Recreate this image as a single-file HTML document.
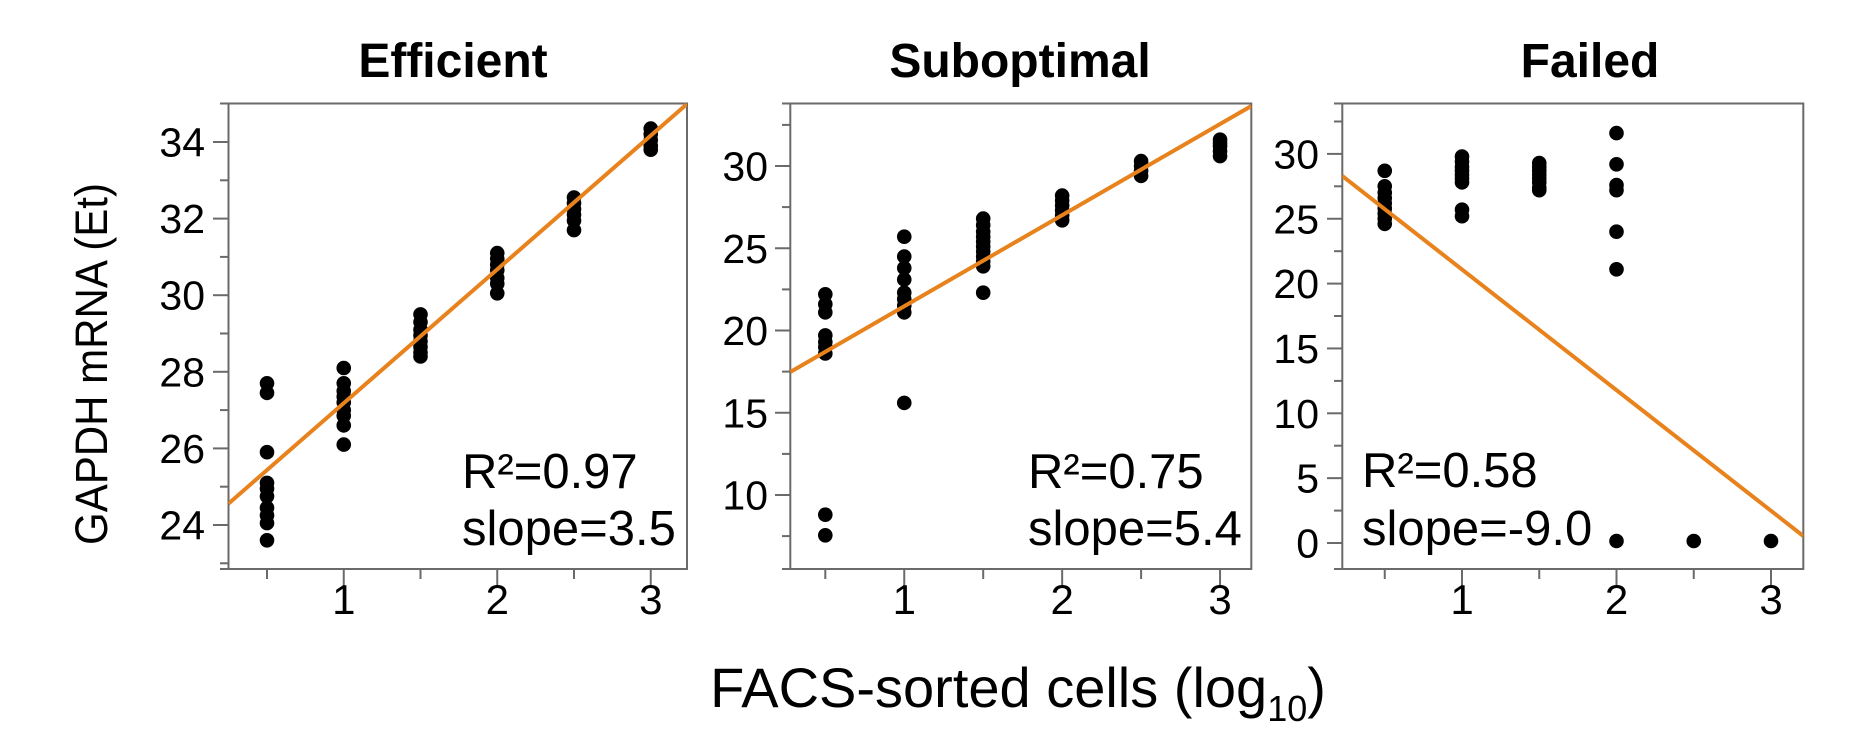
<!DOCTYPE html>
<html>
<head>
<meta charset="utf-8">
<style>
  html, body { margin: 0; padding: 0; background: #ffffff; }
  svg { display: block; }
  text { font-family: "Liberation Sans", Arial, sans-serif; fill: #000; }
</style>
</head>
<body>
<svg width="1860" height="734" viewBox="0 0 1860 734" xmlns="http://www.w3.org/2000/svg">
  <defs>
    <clipPath id="c1"><rect x="228.5" y="103.5" width="458.5" height="465.5"/></clipPath>
    <clipPath id="c2"><rect x="790.3" y="103.5" width="461" height="465.5"/></clipPath>
    <clipPath id="c3"><rect x="1342.3" y="103.5" width="461" height="465.5"/></clipPath>
  </defs>

  <!-- Titles -->
  <text x="453" y="77" font-size="48" font-weight="bold" text-anchor="middle">Efficient</text>
  <text x="1020" y="77" font-size="48" font-weight="bold" text-anchor="middle">Suboptimal</text>
  <text x="1590" y="77" font-size="48" font-weight="bold" text-anchor="middle">Failed</text>

  <!-- Axis labels -->
  <text transform="translate(107,364) rotate(-90)" font-size="45" text-anchor="middle" textLength="362" lengthAdjust="spacingAndGlyphs">GAPDH mRNA (Et)</text>
  <text x="1018" y="707" font-size="56" text-anchor="middle">FACS-sorted cells (log<tspan font-size="36" dy="14">10</tspan><tspan dy="-14">)</tspan></text>

  <!-- ============ PANEL 1 ============ -->
  <g stroke="#6a6a6a" stroke-width="2" fill="none">
    <rect x="228.5" y="103.5" width="458.5" height="465.5"/>
    <line x1="220" y1="103.5" x2="228.5" y2="103.5"/>
    <line x1="220" y1="569" x2="228.5" y2="569"/>
    <line x1="213" y1="142" x2="228.5" y2="142"/>
    <line x1="213" y1="218.6" x2="228.5" y2="218.6"/>
    <line x1="213" y1="295.2" x2="228.5" y2="295.2"/>
    <line x1="213" y1="371.8" x2="228.5" y2="371.8"/>
    <line x1="213" y1="448.4" x2="228.5" y2="448.4"/>
    <line x1="213" y1="525" x2="228.5" y2="525"/>
    <line x1="220" y1="180.3" x2="228.5" y2="180.3"/>
    <line x1="220" y1="256.9" x2="228.5" y2="256.9"/>
    <line x1="220" y1="333.5" x2="228.5" y2="333.5"/>
    <line x1="220" y1="410.1" x2="228.5" y2="410.1"/>
    <line x1="220" y1="486.7" x2="228.5" y2="486.7"/>
    <line x1="220" y1="563.3" x2="228.5" y2="563.3"/>
    <line x1="267" y1="569" x2="267" y2="579"/>
    <line x1="343.75" y1="569" x2="343.75" y2="586"/>
    <line x1="420.5" y1="569" x2="420.5" y2="579"/>
    <line x1="497.25" y1="569" x2="497.25" y2="586"/>
    <line x1="574" y1="569" x2="574" y2="579"/>
    <line x1="650.75" y1="569" x2="650.75" y2="586"/>
  </g>
  <g font-size="41" text-anchor="end">
    <text x="205" y="156.5">34</text>
    <text x="205" y="233.1">32</text>
    <text x="205" y="309.7">30</text>
    <text x="205" y="386.3">28</text>
    <text x="205" y="462.9">26</text>
    <text x="205" y="539.5">24</text>
  </g>
  <g font-size="42" text-anchor="middle">
    <text x="343.75" y="614">1</text>
    <text x="497.25" y="614">2</text>
    <text x="650.75" y="614">3</text>
  </g>
  <g fill="#000">
    <circle cx="267" cy="383.3" r="7.3"/><circle cx="267" cy="392.9" r="7.3"/><circle cx="267" cy="452.2" r="7.3"/>
    <circle cx="267" cy="482.9" r="7.3"/><circle cx="267" cy="488.6" r="7.3"/><circle cx="267" cy="496.3" r="7.3"/>
    <circle cx="267" cy="507.8" r="7.3"/><circle cx="267" cy="515.4" r="7.3"/><circle cx="267" cy="523.1" r="7.3"/>
    <circle cx="267" cy="540.3" r="7.3"/>

    <circle cx="343.75" cy="368" r="7.3"/><circle cx="343.75" cy="383.3" r="7.3"/><circle cx="343.75" cy="391" r="7.3"/>
    <circle cx="343.75" cy="396.7" r="7.3"/><circle cx="343.75" cy="402.4" r="7.3"/><circle cx="343.75" cy="410.1" r="7.3"/>
    <circle cx="343.75" cy="415.8" r="7.3"/><circle cx="343.75" cy="425.4" r="7.3"/><circle cx="343.75" cy="444.6" r="7.3"/>

    <circle cx="420.5" cy="314.4" r="7.3"/><circle cx="420.5" cy="322" r="7.3"/><circle cx="420.5" cy="329.7" r="7.3"/>
    <circle cx="420.5" cy="335.4" r="7.3"/><circle cx="420.5" cy="341.2" r="7.3"/><circle cx="420.5" cy="346.9" r="7.3"/>
    <circle cx="420.5" cy="352.7" r="7.3"/><circle cx="420.5" cy="356.5" r="7.3"/>

    <circle cx="497.25" cy="253.1" r="7.3"/><circle cx="497.25" cy="258.8" r="7.3"/><circle cx="497.25" cy="264.6" r="7.3"/>
    <circle cx="497.25" cy="270.3" r="7.3"/><circle cx="497.25" cy="278" r="7.3"/><circle cx="497.25" cy="283.7" r="7.3"/>
    <circle cx="497.25" cy="293.3" r="7.3"/>

    <circle cx="574" cy="197.5" r="7.3"/><circle cx="574" cy="203.3" r="7.3"/><circle cx="574" cy="209" r="7.3"/>
    <circle cx="574" cy="214.8" r="7.3"/><circle cx="574" cy="220.5" r="7.3"/><circle cx="574" cy="230.1" r="7.3"/>

    <circle cx="650.75" cy="128.6" r="7.3"/><circle cx="650.75" cy="134.3" r="7.3"/><circle cx="650.75" cy="140.1" r="7.3"/>
    <circle cx="650.75" cy="145.8" r="7.3"/><circle cx="650.75" cy="149.7" r="7.3"/>
  </g>
  <line x1="228.5" y1="503.6" x2="687" y2="104" stroke="#E8821C" stroke-width="4" clip-path="url(#c1)"/>
  <text x="462" y="488" font-size="49">R²=0.97</text>
  <text x="462" y="545" font-size="49">slope=3.5</text>

  <!-- ============ PANEL 2 ============ -->
  <g stroke="#6a6a6a" stroke-width="2" fill="none">
    <rect x="790.3" y="103.5" width="461" height="465.5"/>
    <line x1="782" y1="103.5" x2="790.3" y2="103.5"/>
    <line x1="782" y1="569" x2="790.3" y2="569"/>
    <line x1="775" y1="166" x2="790.3" y2="166"/>
    <line x1="775" y1="248.25" x2="790.3" y2="248.25"/>
    <line x1="775" y1="330.5" x2="790.3" y2="330.5"/>
    <line x1="775" y1="412.75" x2="790.3" y2="412.75"/>
    <line x1="775" y1="495" x2="790.3" y2="495"/>
    <line x1="782" y1="124.9" x2="790.3" y2="124.9"/>
    <line x1="782" y1="207.1" x2="790.3" y2="207.1"/>
    <line x1="782" y1="289.4" x2="790.3" y2="289.4"/>
    <line x1="782" y1="371.6" x2="790.3" y2="371.6"/>
    <line x1="782" y1="453.9" x2="790.3" y2="453.9"/>
    <line x1="782" y1="536.1" x2="790.3" y2="536.1"/>
    <line x1="825.3" y1="569" x2="825.3" y2="579"/>
    <line x1="904.25" y1="569" x2="904.25" y2="586"/>
    <line x1="983.2" y1="569" x2="983.2" y2="579"/>
    <line x1="1062.15" y1="569" x2="1062.15" y2="586"/>
    <line x1="1141.1" y1="569" x2="1141.1" y2="579"/>
    <line x1="1220.05" y1="569" x2="1220.05" y2="586"/>
  </g>
  <g font-size="41" text-anchor="end">
    <text x="768" y="180.5">30</text>
    <text x="768" y="262.75">25</text>
    <text x="768" y="345">20</text>
    <text x="768" y="427.25">15</text>
    <text x="768" y="509.5">10</text>
  </g>
  <g font-size="42" text-anchor="middle">
    <text x="904.25" y="614">1</text>
    <text x="1062.15" y="614">2</text>
    <text x="1220.05" y="614">3</text>
  </g>
  <g fill="#000">
    <circle cx="825.3" cy="294.3" r="7.3"/><circle cx="825.3" cy="304.2" r="7.3"/><circle cx="825.3" cy="312.4" r="7.3"/>
    <circle cx="825.3" cy="335.4" r="7.3"/><circle cx="825.3" cy="342" r="7.3"/><circle cx="825.3" cy="347" r="7.3"/>
    <circle cx="825.3" cy="353.5" r="7.3"/><circle cx="825.3" cy="514.7" r="7.3"/><circle cx="825.3" cy="535.3" r="7.3"/>

    <circle cx="904.25" cy="236.7" r="7.3"/><circle cx="904.25" cy="256.5" r="7.3"/><circle cx="904.25" cy="268" r="7.3"/>
    <circle cx="904.25" cy="279.5" r="7.3"/><circle cx="904.25" cy="292.7" r="7.3"/><circle cx="904.25" cy="299.2" r="7.3"/>
    <circle cx="904.25" cy="305.8" r="7.3"/><circle cx="904.25" cy="312.4" r="7.3"/><circle cx="904.25" cy="402.9" r="7.3"/>

    <circle cx="983.2" cy="218.6" r="7.3"/><circle cx="983.2" cy="225.2" r="7.3"/><circle cx="983.2" cy="231.8" r="7.3"/>
    <circle cx="983.2" cy="236.7" r="7.3"/><circle cx="983.2" cy="241.7" r="7.3"/><circle cx="983.2" cy="246.6" r="7.3"/>
    <circle cx="983.2" cy="251.5" r="7.3"/><circle cx="983.2" cy="256.5" r="7.3"/><circle cx="983.2" cy="261.4" r="7.3"/>
    <circle cx="983.2" cy="266.3" r="7.3"/><circle cx="983.2" cy="292.7" r="7.3"/>

    <circle cx="1062.15" cy="195.6" r="7.3"/><circle cx="1062.15" cy="200.5" r="7.3"/><circle cx="1062.15" cy="205.5" r="7.3"/>
    <circle cx="1062.15" cy="210.4" r="7.3"/><circle cx="1062.15" cy="215.4" r="7.3"/><circle cx="1062.15" cy="220.3" r="7.3"/>

    <circle cx="1141.1" cy="161.1" r="7.3"/><circle cx="1141.1" cy="166" r="7.3"/><circle cx="1141.1" cy="170.9" r="7.3"/>
    <circle cx="1141.1" cy="175.9" r="7.3"/>

    <circle cx="1220.05" cy="139.7" r="7.3"/><circle cx="1220.05" cy="143" r="7.3"/><circle cx="1220.05" cy="146.3" r="7.3"/>
    <circle cx="1220.05" cy="151.2" r="7.3"/><circle cx="1220.05" cy="156.1" r="7.3"/>
  </g>
  <line x1="790.3" y1="372" x2="1251.3" y2="106" stroke="#E8821C" stroke-width="4" clip-path="url(#c2)"/>
  <text x="1028" y="488" font-size="49">R²=0.75</text>
  <text x="1028" y="545" font-size="49">slope=5.4</text>

  <!-- ============ PANEL 3 ============ -->
  <g stroke="#6a6a6a" stroke-width="2" fill="none">
    <rect x="1342.3" y="103.5" width="461" height="465.5"/>
    <line x1="1334" y1="103.5" x2="1342.3" y2="103.5"/>
    <line x1="1334" y1="569" x2="1342.3" y2="569"/>
    <line x1="1327" y1="153.9" x2="1342.3" y2="153.9"/>
    <line x1="1327" y1="218.75" x2="1342.3" y2="218.75"/>
    <line x1="1327" y1="283.6" x2="1342.3" y2="283.6"/>
    <line x1="1327" y1="348.45" x2="1342.3" y2="348.45"/>
    <line x1="1327" y1="413.3" x2="1342.3" y2="413.3"/>
    <line x1="1327" y1="478.15" x2="1342.3" y2="478.15"/>
    <line x1="1327" y1="543" x2="1342.3" y2="543"/>
    <line x1="1334" y1="121.5" x2="1342.3" y2="121.5"/>
    <line x1="1334" y1="186.3" x2="1342.3" y2="186.3"/>
    <line x1="1334" y1="251.2" x2="1342.3" y2="251.2"/>
    <line x1="1334" y1="316" x2="1342.3" y2="316"/>
    <line x1="1334" y1="380.9" x2="1342.3" y2="380.9"/>
    <line x1="1334" y1="445.7" x2="1342.3" y2="445.7"/>
    <line x1="1334" y1="510.6" x2="1342.3" y2="510.6"/>
    <line x1="1384.75" y1="569" x2="1384.75" y2="579"/>
    <line x1="1462" y1="569" x2="1462" y2="586"/>
    <line x1="1539.25" y1="569" x2="1539.25" y2="579"/>
    <line x1="1616.5" y1="569" x2="1616.5" y2="586"/>
    <line x1="1693.75" y1="569" x2="1693.75" y2="579"/>
    <line x1="1771" y1="569" x2="1771" y2="586"/>
  </g>
  <g font-size="41" text-anchor="end">
    <text x="1319" y="168.4">30</text>
    <text x="1319" y="233.25">25</text>
    <text x="1319" y="298.1">20</text>
    <text x="1319" y="362.95">15</text>
    <text x="1319" y="427.8">10</text>
    <text x="1319" y="492.65">5</text>
    <text x="1319" y="557.5">0</text>
  </g>
  <g font-size="42" text-anchor="middle">
    <text x="1462" y="614">1</text>
    <text x="1616.5" y="614">2</text>
    <text x="1771" y="614">3</text>
  </g>
  <g fill="#000">
    <circle cx="1384.75" cy="170.8" r="7.3"/><circle cx="1384.75" cy="186.3" r="7.3"/><circle cx="1384.75" cy="192.8" r="7.3"/>
    <circle cx="1384.75" cy="198" r="7.3"/><circle cx="1384.75" cy="203.2" r="7.3"/><circle cx="1384.75" cy="208.4" r="7.3"/>
    <circle cx="1384.75" cy="213.6" r="7.3"/><circle cx="1384.75" cy="218.8" r="7.3"/><circle cx="1384.75" cy="223.9" r="7.3"/>

    <circle cx="1462" cy="156.5" r="7.3"/><circle cx="1462" cy="161.7" r="7.3"/><circle cx="1462" cy="166.9" r="7.3"/>
    <circle cx="1462" cy="170.8" r="7.3"/><circle cx="1462" cy="174.7" r="7.3"/><circle cx="1462" cy="178.5" r="7.3"/>
    <circle cx="1462" cy="182.4" r="7.3"/><circle cx="1462" cy="209.7" r="7.3"/><circle cx="1462" cy="216.2" r="7.3"/>

    <circle cx="1539.25" cy="163" r="7.3"/><circle cx="1539.25" cy="166.9" r="7.3"/><circle cx="1539.25" cy="170.8" r="7.3"/>
    <circle cx="1539.25" cy="174.7" r="7.3"/><circle cx="1539.25" cy="178.5" r="7.3"/><circle cx="1539.25" cy="182.4" r="7.3"/>
    <circle cx="1539.25" cy="187.6" r="7.3"/><circle cx="1539.25" cy="190.2" r="7.3"/>

    <circle cx="1616.5" cy="133.1" r="7.3"/><circle cx="1616.5" cy="164.3" r="7.3"/><circle cx="1616.5" cy="185" r="7.3"/>
    <circle cx="1616.5" cy="190.2" r="7.3"/><circle cx="1616.5" cy="231.7" r="7.3"/><circle cx="1616.5" cy="269.3" r="7.3"/>
    <circle cx="1616.5" cy="541" r="7.3"/>

    <circle cx="1693.75" cy="541" r="7.3"/>
    <circle cx="1771" cy="541" r="7.3"/>
  </g>
  <line x1="1342.3" y1="176" x2="1803.3" y2="536" stroke="#E8821C" stroke-width="4" clip-path="url(#c3)"/>
  <text x="1362" y="487" font-size="49">R²=0.58</text>
  <text x="1362" y="545" font-size="49">slope=-9.0</text>
</svg>
</body>
</html>
